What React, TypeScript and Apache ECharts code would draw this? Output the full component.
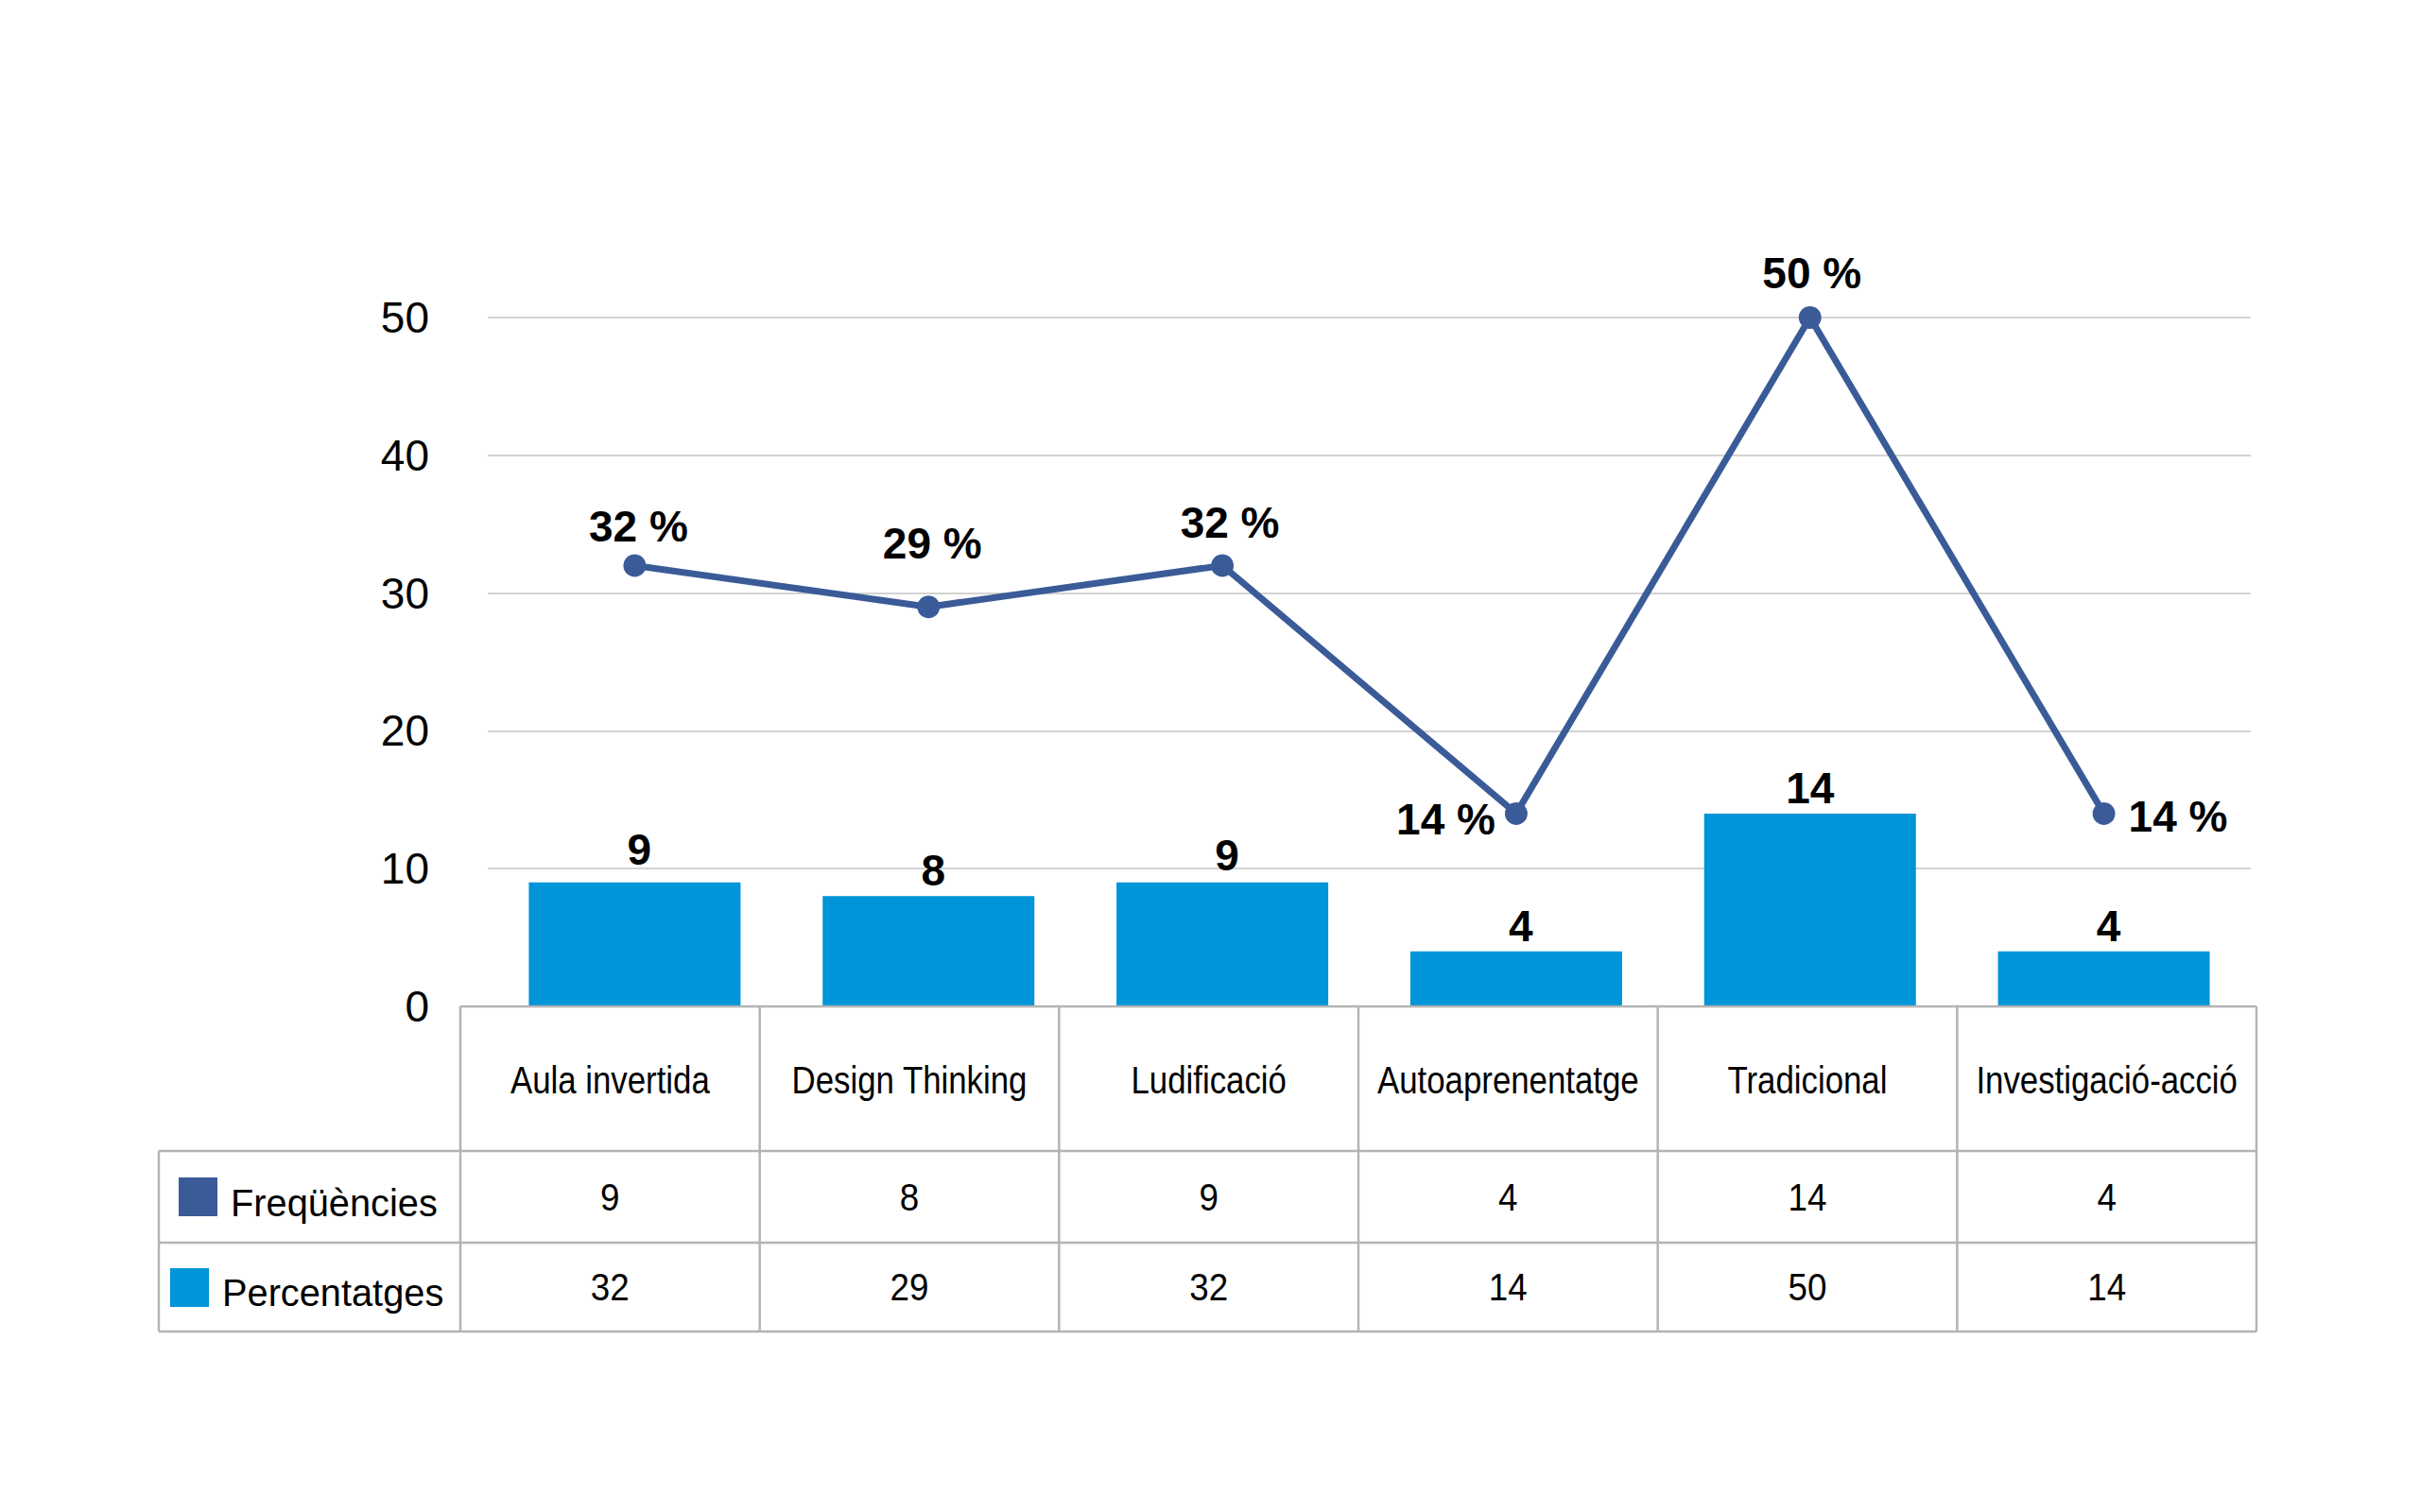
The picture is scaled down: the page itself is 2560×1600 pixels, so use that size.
import React, { useEffect, useRef } from "react";
import * as echarts from "echarts";

const categories = [
  "Aula invertida",
  "Design Thinking",
  "Ludificació",
  "Autoaprenentatge",
  "Tradicional",
  "Investigació-acció",
];
const frequencies = [9, 8, 9, 4, 14, 4];
const percentages = [32, 29, 32, 14, 50, 14];
const rowLabels = ["Freqüències", "Percentatges"];
const yMin = 0;
const yMax = 50;
const yInterval = 10;

const BAR_COLOR = "#0094D8";
const LINE_COLOR = "#3A5B98";
const keyColors = [LINE_COLOR, BAR_COLOR];

// label placement per line point (style only)
const lineLabelPlacement = [
  { position: "top", distance: 6, offset: [4, 0] },
  { position: "top", distance: 32, offset: [4, 0] },
  { position: "top", distance: 10, offset: [8, 0] },
  { position: "left", distance: 10, offset: [0, 6] },
  { position: "top", distance: 12, offset: [2, 0] },
  { position: "right", distance: 14, offset: [0, 3] },
];
const barLabelDistance = [12, 4, 6, 4, 4, 4];
const barLabelOffsetX = [5, 5, 5, 5, 0, 5];

export default function App() {
  const ref = useRef<HTMLDivElement>(null);

  useEffect(() => {
    if (!ref.current) return;
    const chart = echarts.init(ref.current, null, { renderer: "svg" });

    const tableLeft = 487;
    const tableRight = 2387;
    const colW = (tableRight - tableLeft) / categories.length;
    const labelColLeft = 168;
    const yTop = 1065;
    const yRow1 = 1218;
    const yRow2 = 1315;
    const yBottom = 1409;
    const border = "#B4B4B4";
    const bw = 2.5;

    const graphics: any[] = [];
    const hline = (x1: number, x2: number, y: number) =>
      graphics.push({
        type: "line",
        z: 100,
        shape: { x1, y1: y, x2, y2: y },
        style: { stroke: border, lineWidth: bw },
        silent: true,
      });
    const vline = (x: number, y1: number, y2: number) =>
      graphics.push({
        type: "line",
        z: 100,
        shape: { x1: x, y1, x2: x, y2 },
        style: { stroke: border, lineWidth: bw },
        silent: true,
      });
    hline(tableLeft, tableRight, yTop);
    hline(labelColLeft, tableRight, yRow1);
    hline(labelColLeft, tableRight, yRow2);
    hline(labelColLeft, tableRight, yBottom);
    for (let i = 0; i <= categories.length; i++) {
      vline(tableLeft + i * colW, yTop, yBottom);
    }
    vline(labelColLeft, yRow1, yBottom);

    const text = (
      s: string,
      x: number,
      y: number,
      size: number,
      align = "center",
      scaleX = 1
    ) =>
      graphics.push({
        type: "text",
        z: 100,
        x,
        y,
        scaleX,
        silent: true,
        style: {
          text: s,
          fill: "#000",
          fontSize: size,
          fontFamily: "Liberation Sans",
          align,
          verticalAlign: "middle",
          textAlign: align,
          textVerticalAlign: "middle",
        },
      });

    categories.forEach((c, i) => {
      const cx = tableLeft + colW * (i + 0.5);
      text(c, cx, 1143, 40, "center", 0.87);
      text(String(frequencies[i]), cx, 1267, 40, "center", 0.92);
      text(String(percentages[i]), cx, 1362, 40, "center", 0.92);
    });

    // legend keys in the table
    const keyRows = [
      { keyX: 189, keyY: 1246, textX: 244, textY: 1273 },
      { keyX: 180, keyY: 1342, textX: 235, textY: 1368 },
    ];
    rowLabels.forEach((lab, i) => {
      const k = keyRows[i];
      graphics.push({
        type: "rect",
        z: 100,
        silent: true,
        shape: { x: k.keyX, y: k.keyY, width: 41, height: 41 },
        style: { fill: keyColors[i] },
      });
      text(lab, k.textX, k.textY, 41, "left", 0.97);
    });

    const option: any = {
      animation: false,
      backgroundColor: "#ffffff",
      textStyle: { fontFamily: "Liberation Sans" },
      grid: { left: 516, top: 336, width: 1865, height: 729, containLabel: false },
      xAxis: {
        type: "category",
        data: categories,
        boundaryGap: true,
        axisLine: { show: false },
        axisTick: { show: false },
        axisLabel: { show: false },
        splitLine: { show: false },
      },
      yAxis: {
        type: "value",
        min: yMin,
        max: yMax,
        interval: yInterval,
        axisLine: { show: false },
        axisTick: { show: false },
        axisLabel: {
          color: "#000",
          fontSize: 46,
          fontFamily: "Liberation Sans",
          margin: 62,
        },
        splitLine: { lineStyle: { color: "#D3D3D3", width: 2 } },
      },
      series: [
        {
          name: rowLabels[0],
          type: "bar",
          barWidth: 224,
          itemStyle: { color: BAR_COLOR },
          data: frequencies.map((v, i) => ({
            value: v,
            label: {
              show: true,
              position: "top",
              distance: barLabelDistance[i],
              offset: [barLabelOffsetX[i], 0],
              color: "#000",
              fontWeight: "bold",
              fontSize: 46,
              fontFamily: "Liberation Sans",
            },
          })),
          z: 2,
        },
        {
          name: rowLabels[1],
          type: "line",
          symbol: "circle",
          symbolSize: 24,
          lineStyle: { color: LINE_COLOR, width: 7 },
          itemStyle: { color: LINE_COLOR },
          data: percentages.map((v, i) => ({
            value: v,
            label: {
              show: true,
              position: lineLabelPlacement[i].position,
              distance: lineLabelPlacement[i].distance,
              offset: lineLabelPlacement[i].offset,
              formatter: "{c} %",
              color: "#000",
              fontWeight: "bold",
              fontSize: 46,
              fontFamily: "Liberation Sans",
            },
          })),
          z: 3,
        },
      ],
      graphic: graphics,
    };

    chart.setOption(option);
    return () => chart.dispose();
  }, []);

  return (
    <div
      ref={ref}
      style={{
        position: "absolute",
        left: 0,
        top: 0,
        width: "2560px",
        height: "1600px",
        background: "#fff",
      }}
    />
  );
}
